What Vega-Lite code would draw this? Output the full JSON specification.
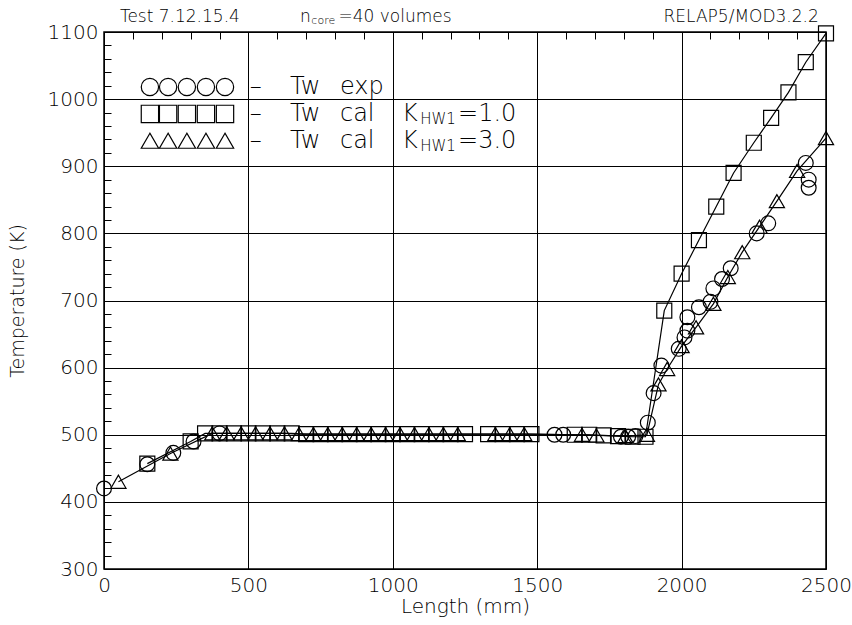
{
  "$schema": "https://vega.github.io/schema/vega-lite/v6.json",
  "width": 722,
  "height": 537,
  "autosize": {"type": "none"},
  "padding": {"left": 104, "top": 32, "right": 26, "bottom": 56},
  "background": "white",
  "config": {
    "view": {"stroke": "black", "strokeWidth": 1.5},
    "font": "DejaVu Sans",
    "axis": {"domainColor": "black", "tickColor": "black", "gridColor": "black", "labelColor": "black", "titleColor": "black", "labelFont": "DejaVu Sans", "titleFont": "DejaVu Sans", "labelFontWeight": 200, "titleFontWeight": 200}
  },
  "datasets": {
    "temps": [
      {"series": "exp", "length": 0, "temp": 420},
      {"series": "exp", "length": 150, "temp": 456},
      {"series": "exp", "length": 240, "temp": 473},
      {"series": "exp", "length": 310, "temp": 490},
      {"series": "exp", "length": 400, "temp": 502},
      {"series": "exp", "length": 1560, "temp": 500},
      {"series": "exp", "length": 1590, "temp": 500},
      {"series": "exp", "length": 1790, "temp": 497},
      {"series": "exp", "length": 1815, "temp": 497},
      {"series": "exp", "length": 1840, "temp": 498},
      {"series": "exp", "length": 1883, "temp": 518},
      {"series": "exp", "length": 1903, "temp": 562},
      {"series": "exp", "length": 1930, "temp": 603},
      {"series": "exp", "length": 1990, "temp": 628},
      {"series": "exp", "length": 2010, "temp": 645},
      {"series": "exp", "length": 2020, "temp": 655},
      {"series": "exp", "length": 2020, "temp": 675},
      {"series": "exp", "length": 2060, "temp": 690},
      {"series": "exp", "length": 2100, "temp": 698},
      {"series": "exp", "length": 2110, "temp": 718},
      {"series": "exp", "length": 2140, "temp": 732},
      {"series": "exp", "length": 2170, "temp": 748},
      {"series": "exp", "length": 2260, "temp": 800},
      {"series": "exp", "length": 2300, "temp": 815},
      {"series": "exp", "length": 2430, "temp": 905},
      {"series": "exp", "length": 2440, "temp": 880},
      {"series": "exp", "length": 2440, "temp": 868},

      {"series": "k1", "length": 150, "temp": 457},
      {"series": "k1", "length": 300, "temp": 490},
      {"series": "k1", "length": 350, "temp": 502},
      {"series": "k1", "length": 400, "temp": 502},
      {"series": "k1", "length": 450, "temp": 502},
      {"series": "k1", "length": 500, "temp": 502},
      {"series": "k1", "length": 550, "temp": 502},
      {"series": "k1", "length": 600, "temp": 502},
      {"series": "k1", "length": 650, "temp": 502},
      {"series": "k1", "length": 700, "temp": 501},
      {"series": "k1", "length": 750, "temp": 501},
      {"series": "k1", "length": 800, "temp": 501},
      {"series": "k1", "length": 850, "temp": 501},
      {"series": "k1", "length": 900, "temp": 501},
      {"series": "k1", "length": 950, "temp": 501},
      {"series": "k1", "length": 1000, "temp": 501},
      {"series": "k1", "length": 1050, "temp": 501},
      {"series": "k1", "length": 1100, "temp": 501},
      {"series": "k1", "length": 1150, "temp": 501},
      {"series": "k1", "length": 1200, "temp": 501},
      {"series": "k1", "length": 1250, "temp": 501},
      {"series": "k1", "length": 1330, "temp": 501},
      {"series": "k1", "length": 1380, "temp": 501},
      {"series": "k1", "length": 1430, "temp": 501},
      {"series": "k1", "length": 1480, "temp": 501},
      {"series": "k1", "length": 1630, "temp": 500},
      {"series": "k1", "length": 1680, "temp": 500},
      {"series": "k1", "length": 1730, "temp": 499},
      {"series": "k1", "length": 1780, "temp": 498},
      {"series": "k1", "length": 1830, "temp": 497},
      {"series": "k1", "length": 1875, "temp": 497},
      {"series": "k1", "length": 1940, "temp": 685},
      {"series": "k1", "length": 2000, "temp": 740},
      {"series": "k1", "length": 2060, "temp": 790},
      {"series": "k1", "length": 2120, "temp": 840},
      {"series": "k1", "length": 2180, "temp": 890},
      {"series": "k1", "length": 2250, "temp": 935},
      {"series": "k1", "length": 2310, "temp": 972},
      {"series": "k1", "length": 2370, "temp": 1010},
      {"series": "k1", "length": 2430, "temp": 1055},
      {"series": "k1", "length": 2500, "temp": 1098},

      {"series": "k3", "length": 50, "temp": 430},
      {"series": "k3", "length": 230, "temp": 472},
      {"series": "k3", "length": 375, "temp": 502},
      {"series": "k3", "length": 425, "temp": 502},
      {"series": "k3", "length": 475, "temp": 502},
      {"series": "k3", "length": 525, "temp": 502},
      {"series": "k3", "length": 575, "temp": 502},
      {"series": "k3", "length": 625, "temp": 502},
      {"series": "k3", "length": 675, "temp": 501},
      {"series": "k3", "length": 725, "temp": 501},
      {"series": "k3", "length": 775, "temp": 501},
      {"series": "k3", "length": 825, "temp": 501},
      {"series": "k3", "length": 875, "temp": 501},
      {"series": "k3", "length": 925, "temp": 501},
      {"series": "k3", "length": 975, "temp": 501},
      {"series": "k3", "length": 1025, "temp": 501},
      {"series": "k3", "length": 1075, "temp": 501},
      {"series": "k3", "length": 1125, "temp": 501},
      {"series": "k3", "length": 1175, "temp": 501},
      {"series": "k3", "length": 1225, "temp": 501},
      {"series": "k3", "length": 1355, "temp": 501},
      {"series": "k3", "length": 1405, "temp": 501},
      {"series": "k3", "length": 1455, "temp": 501},
      {"series": "k3", "length": 1655, "temp": 500},
      {"series": "k3", "length": 1705, "temp": 499},
      {"series": "k3", "length": 1805, "temp": 498},
      {"series": "k3", "length": 1880, "temp": 500},
      {"series": "k3", "length": 1920, "temp": 575},
      {"series": "k3", "length": 1950, "temp": 598},
      {"series": "k3", "length": 2000, "temp": 632},
      {"series": "k3", "length": 2050, "temp": 660},
      {"series": "k3", "length": 2110, "temp": 695},
      {"series": "k3", "length": 2160, "temp": 735},
      {"series": "k3", "length": 2210, "temp": 772},
      {"series": "k3", "length": 2270, "temp": 810},
      {"series": "k3", "length": 2330, "temp": 848},
      {"series": "k3", "length": 2400, "temp": 893},
      {"series": "k3", "length": 2500, "temp": 942}
    ],
    "keyMarks": [
      {"series": "exp", "length": 159, "temp": 1018},
      {"series": "exp", "length": 222, "temp": 1018},
      {"series": "exp", "length": 287, "temp": 1018},
      {"series": "exp", "length": 353, "temp": 1018},
      {"series": "exp", "length": 419, "temp": 1018},
      {"series": "k1", "length": 159, "temp": 978},
      {"series": "k1", "length": 222, "temp": 978},
      {"series": "k1", "length": 287, "temp": 978},
      {"series": "k1", "length": 353, "temp": 978},
      {"series": "k1", "length": 419, "temp": 978},
      {"series": "k3", "length": 159, "temp": 938},
      {"series": "k3", "length": 222, "temp": 938},
      {"series": "k3", "length": 287, "temp": 938},
      {"series": "k3", "length": 353, "temp": 938},
      {"series": "k3", "length": 419, "temp": 938}
    ],
    "keyText": [
      {"length": 505, "temp": 1018, "text": "–"},
      {"length": 644, "temp": 1018, "text": "Tw"},
      {"length": 817, "temp": 1018, "text": "exp"},
      {"length": 505, "temp": 978, "text": "–"},
      {"length": 644, "temp": 978, "text": "Tw"},
      {"length": 817, "temp": 978, "text": "cal"},
      {"length": 1032, "temp": 978, "text": "K"},
      {"length": 1226, "temp": 978, "text": "=1.0"},
      {"length": 505, "temp": 938, "text": "–"},
      {"length": 644, "temp": 938, "text": "Tw"},
      {"length": 817, "temp": 938, "text": "cal"},
      {"length": 1032, "temp": 938, "text": "K"},
      {"length": 1226, "temp": 938, "text": "=3.0"}
    ],
    "keySub": [
      {"length": 1095, "temp": 970, "text": "HW1"},
      {"length": 1095, "temp": 930, "text": "HW1"}
    ],
    "headerLeft": [
      {"length": 55, "temp": 1123, "text": "Test  7.12.15.4"},
      {"length": 679, "temp": 1123, "text": "n"},
      {"length": 812, "temp": 1123, "text": "=40  volumes"}
    ],
    "headerRight": [
      {"length": 2475, "temp": 1123, "text": "RELAP5/MOD3.2.2"}
    ],
    "headerSub": [
      {"length": 718, "temp": 1116, "text": "core"}
    ]
  },
  "encoding": {
    "x": {"field": "length", "type": "quantitative", "scale": {"domain": [0, 2500], "nice": false, "zero": false}},
    "y": {"field": "temp", "type": "quantitative", "scale": {"domain": [300, 1100], "nice": false, "zero": false}}
  },
  "layer": [
    {
      "data": {"name": "temps"},
      "transform": [{"filter": "datum.series !== 'exp'"}],
      "mark": {"type": "line", "color": "black", "strokeWidth": 1.2},
      "encoding": {
        "x": {
          "field": "length", "type": "quantitative",
          "axis": {
            "title": "Length  (mm)", "titleFontSize": 20, "titlePadding": 1,
            "values": [0, 100, 200, 300, 400, 500, 600, 700, 800, 900, 1000, 1100, 1200, 1300, 1400, 1500, 1600, 1700, 1800, 1900, 2000, 2100, 2200, 2300, 2400, 2500],
            "tickCount": 200, "format": "d",
            "labelExpr": "datum.value % 500 === 0 ? datum.label : ''",
            "labelFontSize": 20, "labelPadding": 13, "labelOverlap": false, "labelFlush": false,
            "grid": true, "gridWidth": 1, "gridOpacity": 1,
            "gridDash": {"condition": {"test": "datum.value % 500 === 0", "value": []}, "value": [7, 2000]},
            "ticks": false, "offset": -7,
            "domain": false
          }
        },
        "y": {
          "field": "temp", "type": "quantitative",
          "axis": {
            "title": "Temperature  (K)", "titleFontSize": 19, "titlePadding": 20,
            "values": [300, 320, 340, 360, 380, 400, 420, 440, 460, 480, 500, 520, 540, 560, 580, 600, 620, 640, 660, 680, 700, 720, 740, 760, 780, 800, 820, 840, 860, 880, 900, 920, 940, 960, 980, 1000, 1020, 1040, 1060, 1080, 1100],
            "tickCount": 200, "format": "d",
            "labelExpr": "datum.value % 100 === 0 ? datum.label : ''",
            "labelFontSize": 20, "labelPadding": 13, "labelOverlap": false, "labelFlush": false,
            "grid": true, "gridWidth": 1, "gridOpacity": 1,
            "gridDash": {"condition": {"test": "datum.value % 100 === 0", "value": []}, "value": [7, 2000]},
            "ticks": false, "offset": -7,
            "domain": false
          }
        },
        "detail": {"field": "series"}
      }
    },
    {
      "data": {"name": "temps"},
      "mark": {"type": "point", "filled": false, "color": "black", "strokeWidth": 1.2, "opacity": 1},
      "encoding": {
        "shape": {"field": "series", "type": "nominal", "scale": {"domain": ["exp", "k1", "k3"], "range": ["circle", "square", "triangle-up"]}, "legend": null},
        "size": {"field": "series", "type": "nominal", "scale": {"domain": ["exp", "k1", "k3"], "range": [220, 230, 200]}, "legend": null}
      }
    },
    {
      "data": {"name": "keyMarks"},
      "mark": {"type": "point", "filled": false, "color": "black", "strokeWidth": 1.2, "opacity": 1},
      "encoding": {
        "shape": {"field": "series", "type": "nominal", "scale": {"domain": ["exp", "k1", "k3"], "range": ["circle", "square", "triangle-up"]}, "legend": null},
        "size": {"value": 300}
      }
    },
    {
      "data": {"name": "keyText"},
      "mark": {"type": "text", "align": "left", "baseline": "middle", "fontSize": 24, "fontWeight": 200, "color": "black"},
      "encoding": {"text": {"field": "text"}}
    },
    {
      "data": {"name": "keySub"},
      "mark": {"type": "text", "align": "left", "baseline": "middle", "fontSize": 15, "fontWeight": 200, "color": "black"},
      "encoding": {"text": {"field": "text"}}
    },
    {
      "data": {"name": "headerLeft"},
      "mark": {"type": "text", "align": "left", "baseline": "middle", "fontSize": 17, "fontWeight": 200, "color": "black"},
      "encoding": {"text": {"field": "text"}}
    },
    {
      "data": {"name": "headerRight"},
      "mark": {"type": "text", "align": "right", "baseline": "middle", "fontSize": 17, "fontWeight": 200, "color": "black"},
      "encoding": {"text": {"field": "text"}}
    },
    {
      "data": {"name": "headerSub"},
      "mark": {"type": "text", "align": "left", "baseline": "middle", "fontSize": 11, "fontWeight": 200, "color": "black"},
      "encoding": {"text": {"field": "text"}}
    }
  ]
}
